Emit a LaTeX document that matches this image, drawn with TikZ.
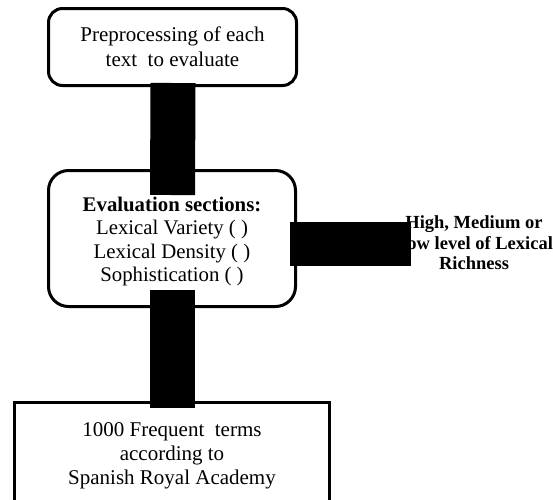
\documentclass[tikz,border=0pt]{standalone}
\usepackage{fontspec}
\setmainfont{Liberation Serif}
\begin{document}
\begin{tikzpicture}[x=1pt,y=-1pt,
  roundbox/.style={draw, line width=3pt, rounded corners=#1, inner sep=0pt},
  squarebox/.style={draw, line width=3pt, inner sep=0pt},
  boxtext/.style={align=center, inner sep=0pt, font=\fontsize{21}{25}\selectfont},
  sidetext/.style={align=center, inner sep=0pt, font=\fontsize{18.5}{20.5}\selectfont\bfseries},
  bar/.style={line width=45pt, line cap=butt},
  hbar/.style={line width=44pt, line cap=butt}]
\useasboundingbox (0,0) rectangle (553,499);
% boxes
\node[roundbox=14pt, minimum width=248pt, minimum height=77pt] (pre) at (172.5,47) {};
\node[roundbox=20pt, minimum width=247pt, minimum height=136pt] (eval) at (172,238.5) {};
\node[squarebox, minimum width=315pt, minimum height=130pt] (freq) at (172,467.5) {};
% texts
\node[boxtext] (pretxt) at (172.5,47) {Preprocessing of each\\text\ \ to evaluate};
\node[boxtext, font=\fontsize{20.8}{23.5}\selectfont] (evaltxt) at (172,241.5)
  {\textbf{Evaluation sections:}\\Lexical Variety ( )\\Lexical Density ( )\\Sophistication ( )};
\node[boxtext, font=\fontsize{21}{24}\selectfont] (freqtxt) at (172,456) {1000 Frequent\ \ terms\\according to\\Spanish Royal Academy};
\node[sidetext] (rich) at (474,243) {High, Medium or\\Low level of Lexical\\Richness};
% connectors (drawn as solid black bars)
\coordinate (richend) at (411,244);
\draw[bar] ([xshift=0.5pt,yshift=4pt]pre.south) -- ([xshift=0.5pt,yshift=-26pt]eval.north);
\draw[hbar] ([xshift=-7.5pt,yshift=-5.5pt]eval.east) -- (richend);
\draw[bar] ([xshift=0.5pt,yshift=18pt]eval.south) -- ([xshift=0.5pt,yshift=-7pt]freq.north);
\end{tikzpicture}
\end{document}
